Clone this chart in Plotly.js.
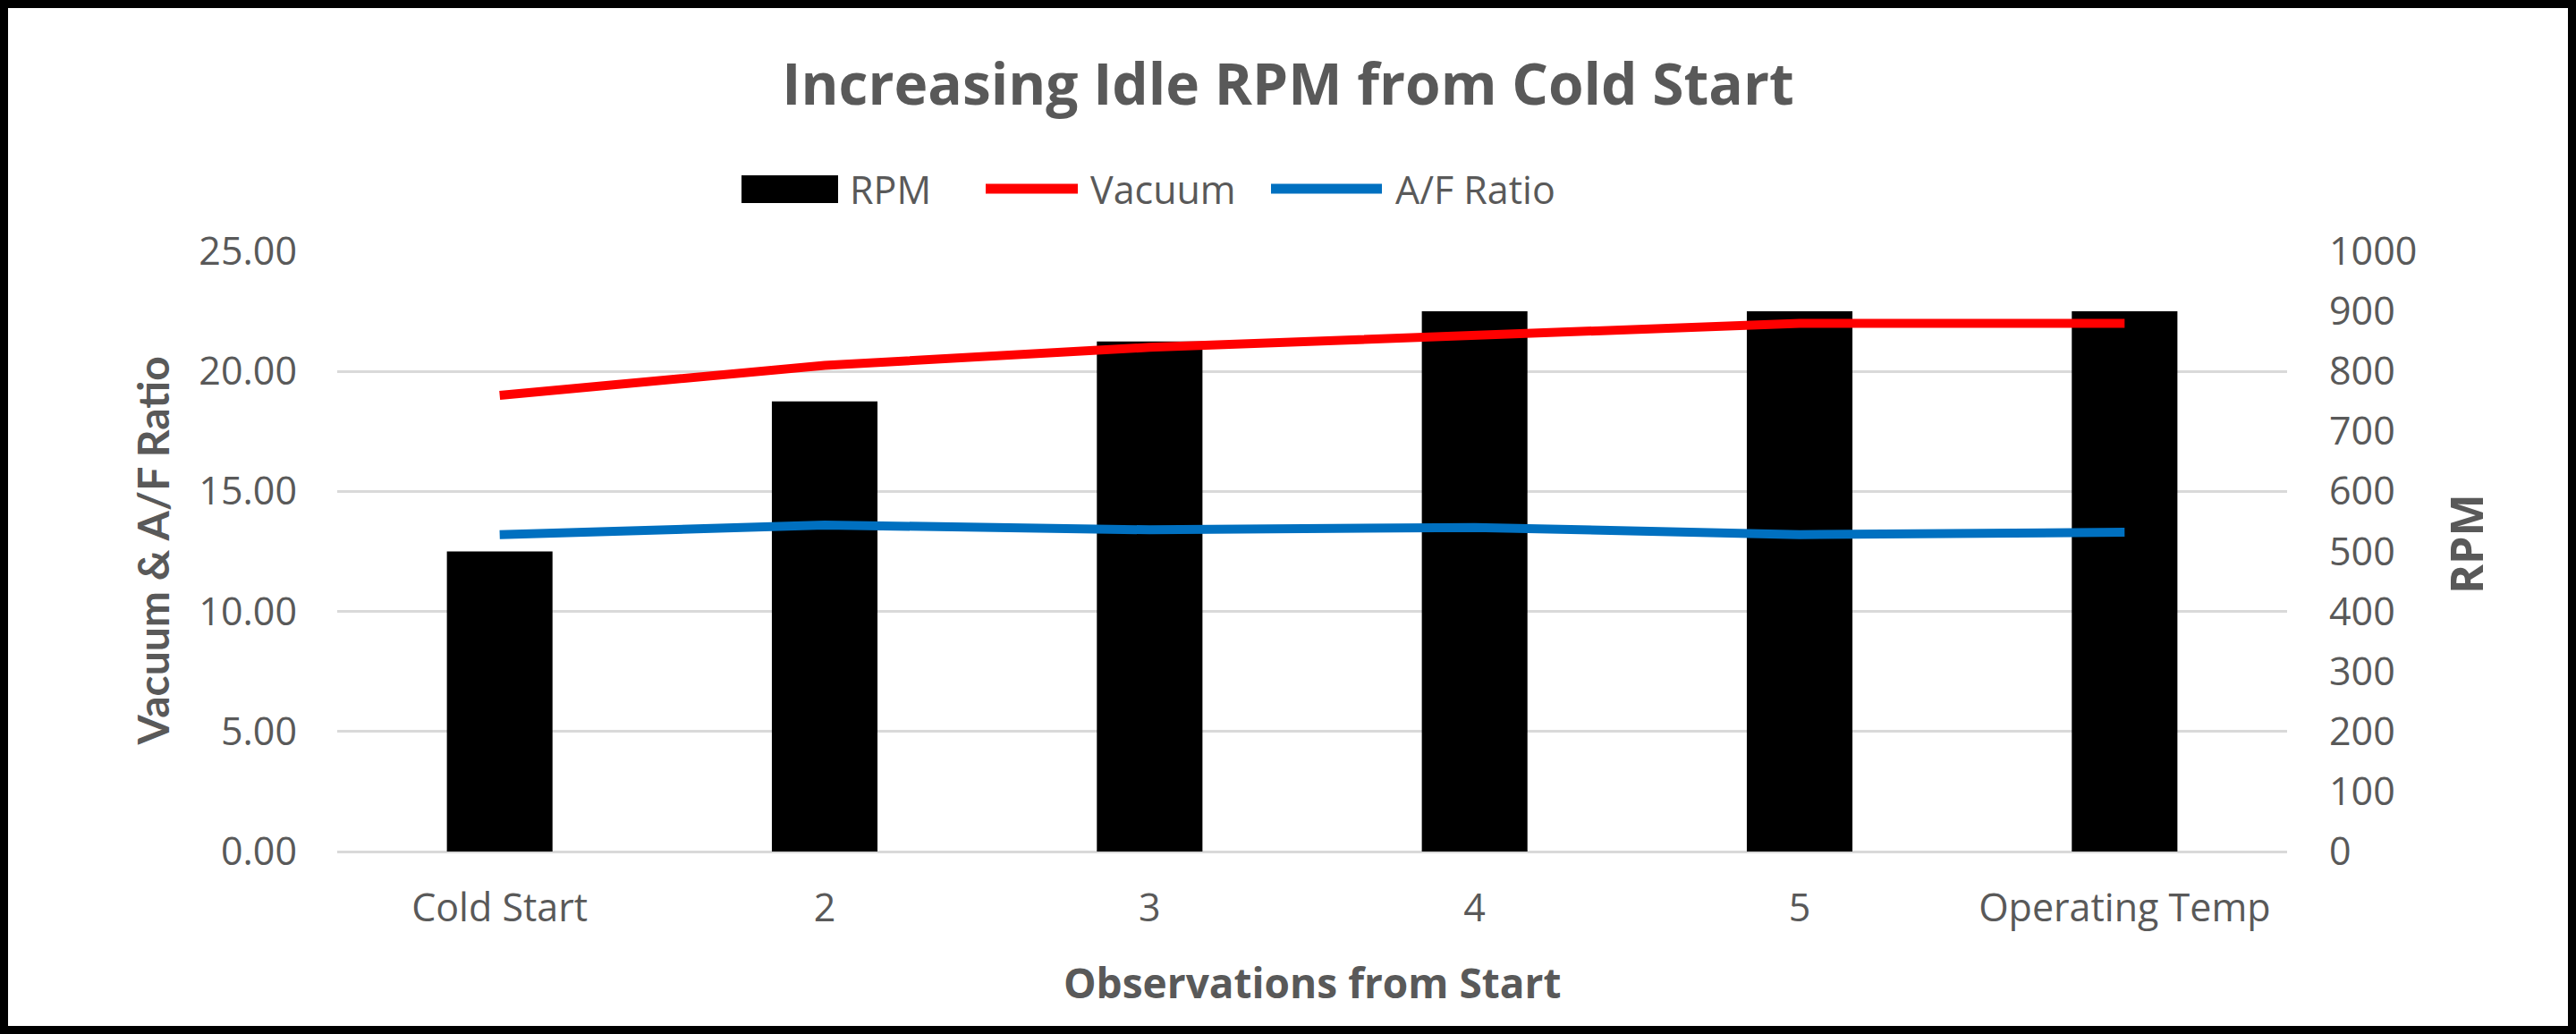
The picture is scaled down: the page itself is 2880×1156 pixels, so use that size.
<!DOCTYPE html>
<html>
<head>
<meta charset="utf-8">
<script src="https://cdn.plot.ly/plotly-3.0.1.min.js"></script>
<style>
  body { margin: 0; background: #fff; }
  #frame { width: 2862px; height: 1138px; border: 9px solid #000; }
  #chart { width: 2862px; height: 1138px; }
</style>
</head>
<body>
<div id="frame"><div id="chart"></div></div>
<script>
const categories = ['Cold Start', '2', '3', '4', '5', 'Operating Temp']
const rpm = [500, 750, 850, 900, 900, 900]
const vacuum = [19.0, 20.25, 21.0, 21.5, 22.0, 22.0]
const afRatio = [13.2, 13.6, 13.4, 13.5, 13.2, 13.3]

const names = ['RPM', 'Vacuum', 'A/F Ratio']
const colors = ['#000000', '#ff0000', '#0070c0']
const textGray = '#595959'

// plot area in page pixels, used to place the hand drawn legend and titles
const plotLeft = 377
const plotWidth = 2180
const plotBottom = 952
const plotHeight = 671
function px (x) { return (x - plotLeft) / plotWidth }
function py (y) { return (plotBottom - y) / plotHeight }

// bars go on the base axis (right side), lines on the overlay so they sit on top
var data = [{
  x: categories,
  y: rpm,
  name: names[0],
  type: 'bar',
  yaxis: 'y',
  marker: { color: colors[0] },
  showlegend: false,
  hoverinfo: 'x+y+name'
}, {
  x: categories,
  y: vacuum,
  name: names[1],
  type: 'scatter',
  mode: 'lines',
  yaxis: 'y2',
  line: { color: colors[1], width: 10 },
  showlegend: false
}, {
  x: categories,
  y: afRatio,
  name: names[2],
  type: 'scatter',
  mode: 'lines',
  yaxis: 'y2',
  line: { color: colors[2], width: 10 },
  showlegend: false
}]

const legendY = py(211)
const shapes = [
  { type: 'rect', xref: 'paper', yref: 'paper', x0: px(829), x1: px(937), y0: py(227), y1: py(196),
    fillcolor: colors[0], line: { width: 0 } },
  { type: 'line', xref: 'paper', yref: 'paper', x0: px(1102), x1: px(1205), y0: legendY, y1: legendY,
    line: { color: colors[1], width: 11 } },
  { type: 'line', xref: 'paper', yref: 'paper', x0: px(1421), x1: px(1545), y0: legendY, y1: legendY,
    line: { color: colors[2], width: 11 } }
]

const legendFont = { family: 'Open Sans', size: 43, color: textGray }
const annotations = [
  { text: names[0], x: px(948), y: legendY, xanchor: 'left', yanchor: 'middle' },
  { text: names[1], x: px(1217), y: legendY, xanchor: 'left', yanchor: 'middle' },
  { text: names[2], x: px(1558), y: legendY, xanchor: 'left', yanchor: 'middle' }
].map(a => Object.assign(a, { xref: 'paper', yref: 'paper', showarrow: false, font: legendFont }))

annotations.push({
  text: '<b>Vacuum &amp; A/F Ratio</b>',
  xref: 'paper', yref: 'paper', x: px(170), y: 0.5,
  xanchor: 'center', yanchor: 'middle', textangle: -90, showarrow: false,
  font: { family: 'Lato', size: 48, color: textGray }
}, {
  text: '<b>RPM</b>',
  xref: 'paper', yref: 'paper', x: px(2757), y: py(608),
  xanchor: 'center', yanchor: 'middle', textangle: -90, showarrow: false,
  font: { family: 'Open Sans', size: 50, color: textGray }
}, {
  text: '<b>Observations from Start</b>',
  xref: 'paper', yref: 'paper', x: 0.5, y: py(1098),
  xanchor: 'center', yanchor: 'middle', showarrow: false,
  font: { family: 'Open Sans', size: 46, color: textGray }
})

var layout = {
  width: 2862,
  height: 1138,
  margin: { l: 368, r: 314, t: 272, b: 195 },
  paper_bgcolor: '#ffffff',
  plot_bgcolor: '#ffffff',
  font: { family: 'Open Sans', size: 43, color: textGray },
  title: {
    text: '<b>Increasing Idle RPM from Cold Start</b>',
    font: { family: 'Open Sans', size: 64, color: textGray },
    x: 0.5,
    xref: 'container',
    y: 1 - 86 / 1138,
    yref: 'container',
    yanchor: 'middle'
  },
  showlegend: false,
  bargap: 0.675,
  xaxis: {
    type: 'category',
    showgrid: false,
    showline: false,
    zeroline: false,
    ticks: '',
    ticklabelstandoff: 34,
    tickfont: { family: 'Open Sans', size: 43, color: textGray }
  },
  yaxis: {
    side: 'right',
    range: [0, 1000],
    dtick: 100,
    showgrid: false,
    zeroline: false,
    showline: false,
    ticks: '',
    ticklabelstandoff: 46,
    tickfont: { family: 'Open Sans', size: 43, color: textGray }
  },
  yaxis2: {
    overlaying: 'y',
    side: 'left',
    range: [0, 25],
    dtick: 5,
    tickformat: '.2f',
    showgrid: true,
    gridcolor: '#d9d9d9',
    gridwidth: 3,
    zeroline: true,
    zerolinecolor: '#d9d9d9',
    zerolinewidth: 3,
    showline: false,
    ticks: '',
    ticklabelstandoff: 44,
    tickfont: { family: 'Open Sans', size: 43, color: textGray }
  },
  shapes: shapes,
  annotations: annotations
}

Plotly.newPlot('chart', data, layout, { staticPlot: true })
</script>
</body>
</html>
